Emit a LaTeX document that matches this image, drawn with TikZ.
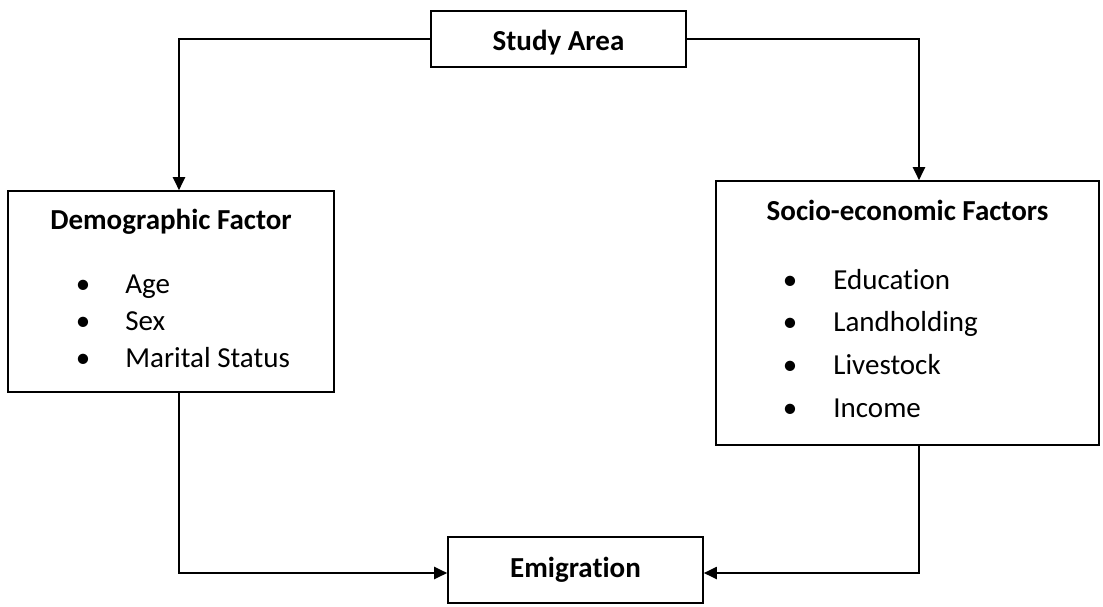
\documentclass[tikz,border=0pt]{standalone}
\usepackage{fontspec}
\setmainfont{Carlito}[Ligatures={NoCommon,NoContextual}]
\usetikzlibrary{arrows.meta,calc}

\begin{document}
\begin{tikzpicture}[x=0.5pt, y=-0.5pt,
  box/.style={draw, line width=0.8pt, inner sep=0pt},
  conn/.style={line width=1pt, -{Triangle[length=6.5pt,width=6pt]}},
  head/.style={font=\fontsize{14.5}{17}\selectfont\bfseries, anchor=base},
  item/.style={font=\fontsize{14.5}{17}\selectfont, anchor=base west, inner sep=0pt},
  dot/.style={font=\fontsize{14.5}{17}\selectfont, anchor=base, inner sep=0pt}]

  \useasboundingbox (0,0) rectangle (1103,606);

  % === BOXES ===
  \node[box, minimum width=127.5pt, minimum height=28pt] (study)
    at (558.5,39) {};
  \node[head] (studyt) at (558.5,50) {Study Area};

  \node[box, minimum width=163pt, minimum height=100.5pt] (demog)
    at (171,291.5) {};
  \node[head] (demogt) at (171,229) {Demographic Factor};

  \node[box, minimum width=191.5pt, minimum height=132pt] (socio)
    at (907.5,313) {};
  \node[head] (sociot) at (907.5,220) {Socio-economic Factors};

  \node[box, minimum width=127.5pt, minimum height=33pt] (emig)
    at (575.5,570) {};
  \node[head] (emigt) at (575.5,577) {Emigration};

  % Bullet lists
  \foreach \t/\y [count=\i] in {
    Age/293, Sex/330, Marital Status/367} {
    \node[dot] (dd\i) at (83,\y) {•};
    \node[item] (dt\i) at (125,\y) {\t};
  }
  \foreach \t/\y [count=\i] in {
    Education/289, Landholding/331,
    Livestock/374, Income/417} {
    \node[dot] (sd\i) at (790,\y) {•};
    \node[item] (st\i) at (833,\y) {\t};
  }

  % === CONNECTORS ===
  \draw[conn] (study.west) -| ($(demog.north)+(8,0)$);
  \draw[conn] (study.east) -| ($(socio.north)+(11.5,0)$);
  \draw[conn] ($(demog.south)+(8,0)$) |- ($(emig.west)+(0,3)$);
  \draw[conn] ($(socio.south)+(11.5,0)$) |- ($(emig.east)+(0,3)$);

\end{tikzpicture}
\end{document}
